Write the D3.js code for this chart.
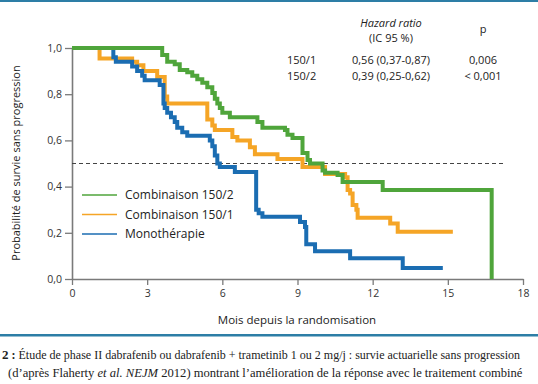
<!DOCTYPE html>
<html>
<head>
<meta charset="utf-8">
<script src="https://cdn.jsdelivr.net/npm/d3@7"></script>
<style>
  body { margin: 0; background: #fff; }
  svg { display: block; font-family: "Open Sans", sans-serif; }
</style>
</head>
<body>
<script>
// survival curves: [month, probability], step after
const combo150_2 = [[0,1.0],[3.6,0.97],[3.8,0.94],[4.1,0.93],[4.3,0.905],[4.6,0.895],[4.8,0.88],[5.0,0.865],[5.2,0.85],[5.4,0.83],[5.6,0.805],[5.7,0.78],[5.8,0.76],[5.9,0.74],[6.0,0.72],[6.3,0.70],[7.4,0.68],[7.6,0.655],[8.5,0.645],[8.6,0.625],[8.8,0.61],[9.2,0.545],[9.4,0.515],[9.5,0.50],[10.0,0.47],[10.1,0.46],[10.6,0.45],[10.8,0.42],[12.4,0.385],[16.75,0]];
const combo150_1 = [[0,1.0],[1.1,0.955],[2.4,0.94],[2.6,0.925],[2.85,0.90],[3.4,0.875],[3.7,0.79],[3.8,0.76],[5.4,0.69],[5.6,0.665],[5.7,0.645],[6.4,0.615],[6.6,0.60],[7.1,0.57],[7.3,0.54],[8.2,0.52],[9.2,0.485],[10.1,0.455],[10.9,0.44],[11.0,0.385],[11.1,0.37],[11.2,0.32],[11.35,0.30],[11.4,0.265],[12.7,0.24],[13.0,0.205],[15.2,0.205]];
const mono = [[0,1.0],[1.65,0.96],[1.75,0.94],[2.4,0.92],[2.6,0.90],[2.8,0.88],[2.9,0.86],[3.5,0.84],[3.65,0.76],[3.7,0.74],[3.8,0.72],[3.95,0.70],[4.1,0.68],[4.2,0.655],[4.4,0.635],[4.6,0.62],[5.5,0.60],[5.6,0.575],[5.7,0.535],[5.8,0.50],[5.9,0.485],[6.5,0.463],[7.35,0.30],[7.45,0.285],[7.6,0.27],[9.1,0.247],[9.3,0.225],[9.35,0.15],[9.7,0.12],[11.1,0.09],[13.2,0.048],[14.8,0.048]];

const legendLabels = ["Combinaison 150/2", "Combinaison 150/1", "Monothérapie"];
const xTicks = [0, 3, 6, 9, 12, 15, 18];
const yTicks = [0, 0.2, 0.4, 0.6, 0.8, 1.0];
const medianLine = [0.5, 17.3]; // level, end month

const hrRows = ["150/1", "150/2"];
const hrValues = ["0,56 (0,37-0,87)", "0,39 (0,25-0,62)"];
const pValues = ["0,006", "< 0,001"];

const captionLines = [
  "Étude de phase II dabrafenib ou dabrafenib + trametinib 1 ou 2 mg/j : survie actuarielle sans progression",
  "montrant l’amélioration de la réponse avec le traitement combiné"
];

const width = 538, height = 384;
const green = "#4fa53b", orange = "#f5a526", blue = "#1b6db2", frame = "#2d7ea6";

const svg = d3.select("body").append("svg")
  .attr("width", width)
  .attr("height", height);

// top / bottom rules
svg.append("rect").attr("x", 0).attr("y", 0).attr("width", width).attr("height", 2).attr("fill", frame);
svg.append("rect").attr("x", 0).attr("y", 334).attr("width", width).attr("height", 2.5).attr("fill", frame);

const x = d3.scaleLinear().domain([0, 18]).range([72, 523]);
const y = d3.scaleLinear().domain([0, 1]).range([279, 48]);

const comma = v => d3.format(".1f")(v).replace(".", ",");

const yaxis = d3.axisLeft(y).tickValues(yTicks).tickFormat(comma).tickSize(7).tickSizeOuter(0);
const xaxis = d3.axisBottom(x).tickValues(xTicks).tickFormat(d3.format("d")).tickSize(6).tickSizeOuter(0);

const gy = svg.append("g").attr("transform", "translate(72,0)").call(yaxis);
const gx = svg.append("g").attr("transform", "translate(0,279)").call(xaxis);
[gx, gy].forEach(g => {
  g.select(".domain").attr("stroke", "#7a7a7a").attr("stroke-width", 1.6);
  g.selectAll(".tick line").attr("stroke", "#7a7a7a").attr("stroke-width", 1.3);
  g.selectAll(".tick text").attr("fill", "#333").style("font-size", "10.5px").style("font-family", "Open Sans, sans-serif");
});
gy.selectAll(".tick text").attr("x", -10);
gx.selectAll(".tick text").attr("y", 11);

// median dashed line
svg.append("line")
  .attr("x1", x(0)).attr("x2", x(medianLine[1]))
  .attr("y1", y(medianLine[0])).attr("y2", y(medianLine[0]))
  .attr("stroke", "#444").attr("stroke-width", 1).attr("stroke-dasharray", "4,3");

const line = d3.line().x(d => x(d[0])).y(d => y(d[1])).curve(d3.curveStepAfter);

[[combo150_1, orange], [mono, blue], [combo150_2, green]].forEach(([data, col]) => {
  svg.append("path").datum(data)
    .attr("d", line)
    .attr("fill", "none")
    .attr("stroke", col)
    .attr("stroke-width", 4)
    .attr("stroke-linejoin", "miter");
});

// legend
const legend = svg.append("g");
[green, orange, blue].forEach((col, i) => {
  const ly = 195 + i * 19.5;
  legend.append("line").attr("x1", 82).attr("x2", 117).attr("y1", ly).attr("y2", ly)
    .attr("stroke", col).attr("stroke-width", 1.6);
  legend.append("text").attr("x", 125).attr("y", ly + 4)
    .style("font-size", "12px").attr("fill", "#222").text(legendLabels[i]);
});

// axis titles
svg.append("text")
  .attr("transform", "translate(20,163) rotate(-90)")
  .attr("text-anchor", "middle")
  .style("font-size", "11px").attr("fill", "#222")
  .text("Probabilité de survie sans progression");

svg.append("text")
  .attr("x", 297).attr("y", 324)
  .attr("text-anchor", "middle")
  .style("font-size", "11.5px").attr("fill", "#222")
  .text("Mois depuis la randomisation");

// hazard ratio table
const tbl = svg.append("g").style("font-size", "11px").attr("fill", "#222");
tbl.append("text").attr("x", 391).attr("y", 27).attr("text-anchor", "middle")
  .style("font-style", "italic").text("Hazard ratio");
tbl.append("text").attr("x", 391).attr("y", 42).attr("text-anchor", "middle").text("(IC 95 %)");
tbl.append("text").attr("x", 483).attr("y", 33).attr("text-anchor", "middle").text("p");
hrRows.forEach((r, i) => {
  const ty = 64 + i * 16;
  tbl.append("text").attr("x", 287).attr("y", ty).text(r);
  tbl.append("text").attr("x", 391).attr("y", ty).attr("text-anchor", "middle").text(hrValues[i]);
  tbl.append("text").attr("x", 483).attr("y", ty).attr("text-anchor", "middle").text(pValues[i]);
});

// caption
const cap = svg.append("g").style("font-family", "Liberation Serif, serif").style("font-size", "12px").attr("fill", "#222");
const c1 = cap.append("text").attr("x", 2).attr("y", 359);
c1.append("tspan").style("font-weight", "bold").style("font-size", "13px").text("2");
c1.append("tspan").style("font-weight", "bold").text(" : ");
c1.append("tspan").text(captionLines[0]);
const c2 = cap.append("text").attr("x", 8).attr("y", 377).style("font-size", "12.6px");
c2.append("tspan").text("(d’après Flaherty ");
c2.append("tspan").style("font-style", "italic").text("et al. NEJM");
c2.append("tspan").text(" 2012) " + captionLines[1]);
</script>
</body>
</html>
